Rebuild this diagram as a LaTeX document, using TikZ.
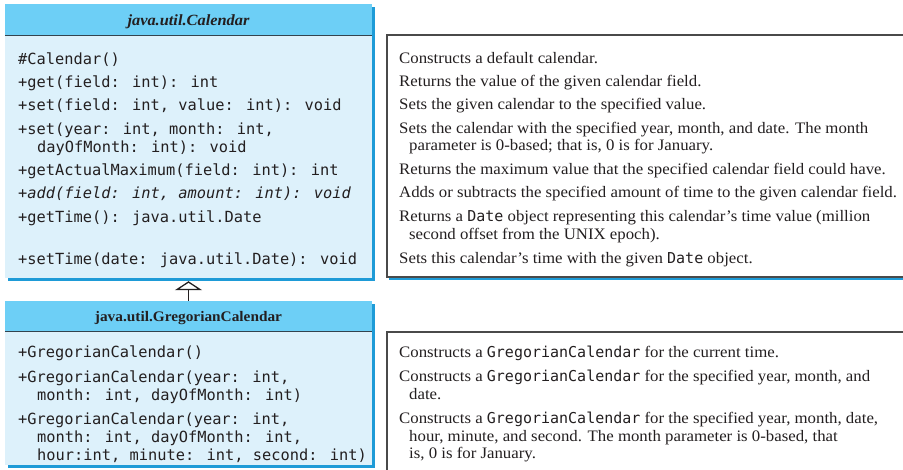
\documentclass[tikz,border=0pt]{standalone}
\usepackage{fontspec}
\setmainfont{Liberation Serif}[FakeStretch=1.05]
\newfontfamily\codefont{DejaVu Sans Mono}
\usetikzlibrary{arrows.meta,shadows}

\definecolor{hdrblue}{HTML}{6DCFF6}
\definecolor{bodyblue}{HTML}{DDF1FB}
\definecolor{shadeblue}{HTML}{1E9BD7}
\definecolor{rulegray}{HTML}{33434E}
\definecolor{boxgray}{HTML}{4A4A4A}
\definecolor{ink}{HTML}{231F20}

\newcommand\inlinecode[1]{{\codefont\fontsize{15}{18}\selectfont #1}}

\tikzset{
  classbody/.style={rectangle, inner sep=0pt, fill=bodyblue, draw=none,
    drop shadow={shadow xshift=3pt, shadow yshift=-3pt, fill=shadeblue, opacity=1}},
  classhead/.style={rectangle, inner sep=0pt, fill=hdrblue, draw=none},
  descbox/.style={rectangle, inner sep=0pt, fill=white, draw=boxgray, line width=1.2pt,
    drop shadow={shadow xshift=2pt, shadow yshift=-3pt, fill=shadeblue, opacity=1}},
  code/.style={font=\codefont\fontsize{15.35}{18}\selectfont, anchor=base west, inner sep=0pt, text=ink},
  desc/.style={font=\fontsize{16}{18}\selectfont, anchor=base west, inner sep=0pt, text=ink},
  title/.style={font=\fontsize{14.6}{17}\selectfont\bfseries, anchor=base, inner sep=0pt, text=ink},
  seprule/.style={draw=rulegray, line width=1.3pt},
  inherit/.style={draw=ink, line width=1.3pt, -{Triangle[open, length=9pt, width=27pt, line width=1.3pt]}}
}

\begin{document}
\begin{tikzpicture}[x=1pt, y=-1pt]
\useasboundingbox (0,0) rectangle (903,469);

% ---- class boxes ----
\node[classbody, minimum width=367pt, minimum height=274pt] (cal) at (188.5,141) {};
\node[classhead, minimum width=367pt, minimum height=31pt] (calhead) at (188.5,19.5) {};
\draw[seprule] (calhead.south west) -- (calhead.south east);

\node[classbody, minimum width=367pt, minimum height=164pt] (greg) at (188.5,383) {};
\node[classhead, minimum width=367pt, minimum height=30pt] (greghead) at (188.5,316) {};
\draw[seprule] (greghead.south west) -- (greghead.south east);

% ---- description boxes ----
\node[descbox, minimum width=533pt, minimum height=242pt] (caldesc) at (653.5,156) {};
\node[descbox, minimum width=533pt, minimum height=148pt] (gregdesc) at (653.5,406) {};

% ---- inheritance ----
\coordinate (calfoot) at ([yshift=-3pt]cal.south);
\draw[inherit] (greghead.north) -- (calfoot);

% ---- titles ----
\node[title, font=\fontsize{15.6}{17}\selectfont\bfseries\itshape] (calname) at (188.5,25) {java.util.Calendar};
\node[title] (gregname) at (188.5,321) {java.util.GregorianCalendar};

% ---- Calendar members ----
\node[code] (m1) at (18,64) {\#Calendar()};
\node[code] (m2) at (18,87) {+get(field: int): int};
\node[code] (m3) at (18,110) {+set(field: int, value: int): void};
\node[code] (m4) at (18,134) {+set(year: int, month: int,};
\node[code] (m4b) at (37,152) {dayOfMonth: int): void};
\node[code] (m5) at (18,175) {+getActualMaximum(field: int): int};
\node[code] (m6) at (18,198) {+\textit{add(field: int, amount: int): void}};
\node[code] (m7) at (18,222) {+getTime(): java.util.Date};
\node[code] (m8) at (18,264) {+setTime(date: java.util.Date): void};

% ---- Calendar descriptions ----
\node[desc] (d1) at (399,63) {Constructs a default calendar.};
\node[desc] (d2) at (399,86) {Returns the value of the given calendar field.};
\node[desc] (d3) at (399,109) {Sets the given calendar to the specified value.};
\node[desc] (d4) at (399,133) {Sets the calendar with the specified year, month, and date. The month};
\node[desc] (d4b) at (409,150) {parameter is 0-based; that is, 0 is for January.};
\node[desc] (d5) at (399,174) {Returns the maximum value that the specified calendar field could have.};
\node[desc] (d6) at (399,197) {Adds or subtracts the specified amount of time to the given calendar field.};
\node[desc] (d7) at (399,221) {Returns a \inlinecode{Date} object representing this calendar's time value (million};
\node[desc] (d7b) at (409,239) {second offset from the UNIX epoch).};
\node[desc] (d8) at (399,263) {Sets this calendar's time with the given \inlinecode{Date} object.};

% ---- GregorianCalendar members ----
\node[code] (g1) at (18,357) {+GregorianCalendar()};
\node[code] (g2) at (18,382) {+GregorianCalendar(year: int,};
\node[code] (g2b) at (37,400) {month: int, dayOfMonth: int)};
\node[code] (g3) at (18,424) {+GregorianCalendar(year: int,};
\node[code] (g3b) at (37,442) {month: int, dayOfMonth: int,};
\node[code] (g3c) at (37,460) {hour:int, minute: int, second: int)};

% ---- GregorianCalendar descriptions ----
\node[desc] (e1) at (399,357) {Constructs a \inlinecode{GregorianCalendar} for the current time.};
\node[desc] (e2) at (399,381) {Constructs a \inlinecode{GregorianCalendar} for the specified year, month, and};
\node[desc] (e2b) at (409,399) {date.};
\node[desc] (e3) at (399,423) {Constructs a \inlinecode{GregorianCalendar} for the specified year, month, date,};
\node[desc] (e3b) at (409,441) {hour, minute, and second. The month parameter is 0-based, that};
\node[desc] (e3c) at (409,458) {is, 0 is for January.};
\end{tikzpicture}
\end{document}
